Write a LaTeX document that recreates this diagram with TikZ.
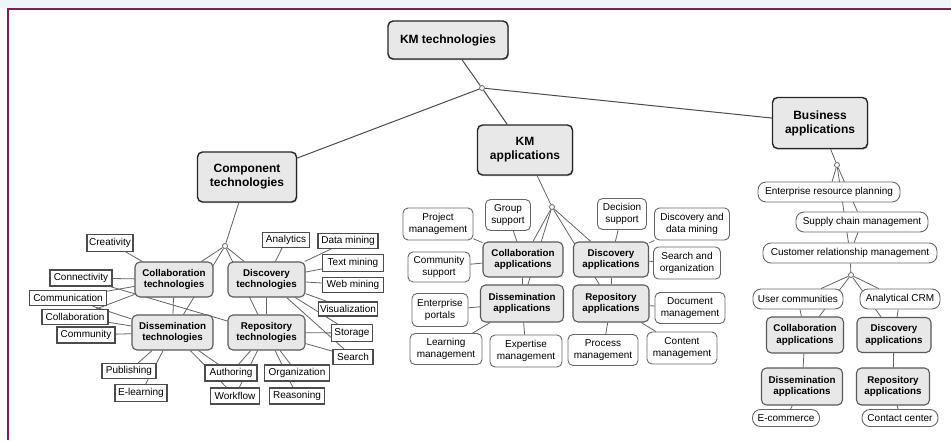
\documentclass[tikz,border=0pt]{standalone}
\usepackage{fontspec}
\setmainfont{Liberation Sans}
\usetikzlibrary{shadows}
\definecolor{boxgray}{RGB}{232,232,232}
\definecolor{framecol}{RGB}{130,30,85}
\definecolor{topband}{RGB}{236,246,249}
\definecolor{linecol}{RGB}{100,100,100}
\pgfdeclarelayer{bg}
\pgfsetlayers{bg,main}
\tikzset{
  sz/.style 2 args={minimum width=#1pt,minimum height=#2pt},
  topbox/.style={draw=black!85, line width=1.4pt, fill=boxgray, rounded corners=5pt, align=center,
    font=\fontsize{12}{14}\selectfont\bfseries, inner sep=1pt,
    drop shadow={shadow xshift=0.8pt, shadow yshift=-1.2pt, fill=black!55}},
  midbox/.style={draw=black!65, line width=1.1pt, fill=boxgray, rounded corners=5pt, align=center,
    font=\fontsize{9.8}{11.8}\selectfont\bfseries, inner sep=0.5pt},
  sqleaf/.style={draw=black!70, line width=1.1pt, fill=white, inner sep=1pt,
    font=\fontsize{10}{11.5}\selectfont},
  rleaf/.style={draw=black!60, line width=0.9pt, fill=white, rounded corners=5pt, align=center,
    inner sep=1pt, font=\fontsize{10}{12}\selectfont},
  pill/.style={rleaf, rounded corners=8pt},
  jn/.style={circle, draw=black!60, fill=white, line width=0.8pt, inner sep=0pt, minimum size=5pt},
  conn/.style={draw=linecol, line width=0.8pt},
  mainconn/.style={draw=black!70, line width=1pt},
}
\begin{document}
\begin{tikzpicture}[x=1pt,y=-1pt]
\useasboundingbox (0,0) rectangle (951,440);
% ---------- top level ----------
\node[topbox, sz={120}{38}] (kmt) at (448,40) {KM technologies};
\node[jn] (c1) at (482,88) {};
\node[topbox, sz={99}{50}] (compt) at (247,177) {Component\\technologies};
\node[topbox, sz={95}{50}] (kmapp) at (525,150) {KM\\applications};
\node[topbox, sz={95}{51}] (busapp) at (820,123) {Business\\applications};
% ---------- component technologies ----------
\node[jn] (c2) at (225,246) {};
\node[midbox, sz={78}{35}] (collabt) at (174,279.5) {Collaboration\\technologies};
\node[midbox, sz={77}{35}] (disct) at (266.5,279.5) {Discovery\\technologies};
\node[midbox, sz={81}{35}] (disst) at (172.5,332.5) {Dissemination\\technologies};
\node[midbox, sz={77}{35}] (repot) at (266.5,332.5) {Repository\\technologies};
\node[sqleaf, sz={46}{17}] (creat) at (110,243) {Creativity};
\node[sqleaf, sz={62}{16}] (connect) at (81,278) {Connectivity};
\node[sqleaf, sz={77}{15}] (commun) at (68,298) {Communication};
\node[sqleaf, sz={66}{15}] (collab) at (75,317) {Collaboration};
\node[sqleaf, sz={58}{16}] (commty) at (86,335) {Community};
\node[sqleaf, sz={54}{15}] (publ) at (129,371) {Publishing};
\node[sqleaf, sz={52}{17}] (elearn) at (141,393) {E-learning};
\node[sqleaf, sz={52}{16}] (author) at (231,373) {Authoring};
\node[sqleaf, sz={49}{16}] (workfl) at (235,396) {Workflow};
\node[sqleaf, sz={65}{16}] (organ) at (297,373) {Organization};
\node[sqleaf, sz={55}{16}] (reason) at (297,396) {Reasoning};
\node[sqleaf, sz={47}{15}] (analyt) at (286,240) {Analytics};
\node[sqleaf, sz={60}{15}] (datam) at (348,241) {Data mining};
\node[sqleaf, sz={61}{17}] (textm) at (353,263) {Text mining};
\node[sqleaf, sz={61}{15}] (webm) at (353,285) {Web mining};
\node[sqleaf, sz={59}{14}] (visual) at (348,309) {Visualization};
\node[sqleaf, sz={41}{17}] (storage) at (352,333) {Storage};
\node[sqleaf, sz={40}{15}] (search) at (353,357) {Search};
% ---------- KM applications ----------
\node[jn] (c5) at (552,207) {};
\node[midbox, sz={80}{35}] (collaba) at (523,259.5) {Collaboration\\applications};
\node[midbox, sz={75}{35}] (disca) at (611,259.5) {Discovery\\applications};
\node[midbox, sz={83}{37}] (dissa) at (522,303.5) {Dissemination\\applications};
\node[midbox, sz={76}{37}] (repoa) at (611,303.5) {Repository\\applications};
\node[rleaf, sz={70}{32}] (projm) at (438,224) {Project\\management};
\node[rleaf, sz={45}{31}] (groups) at (508,215) {Group\\support};
\node[rleaf, sz={62}{30}] (comms) at (439,267) {Community\\support};
\node[rleaf, sz={56}{33}] (entp) at (440,310) {Enterprise\\portals};
\node[rleaf, sz={72}{31}] (learnm) at (446,349) {Learning\\management};
\node[rleaf, sz={72}{32}] (expm) at (526,351) {Expertise\\management};
\node[rleaf, sz={49}{31}] (decs) at (622,214) {Decision\\support};
\node[rleaf, sz={75}{32}] (discdm) at (692,224) {Discovery and\\data mining};
\node[rleaf, sz={67}{32}] (searcho) at (687,263) {Search and\\organization};
\node[rleaf, sz={70}{31}] (docm) at (690,308) {Document\\management};
\node[rleaf, sz={70}{31}] (procm) at (603,350) {Process\\management};
\node[rleaf, sz={70}{32}] (contm) at (682,348) {Content\\management};
% ---------- Business applications ----------
\node[jn] (c3) at (837,165) {};
\node[pill, sz={142}{20}] (erp) at (829,192) {Enterprise resource planning};
\node[pill, sz={132}{20}] (scm) at (862,222) {Supply chain management};
\node[pill, sz={174}{20}] (crm) at (850,253) {Customer relationship management};
\node[jn] (c4) at (851,275) {};
\node[pill, sz={90}{20}] (userc) at (798,299) {User communities};
\node[pill, sz={80}{20}] (ancrm) at (900,299) {Analytical CRM};
\node[midbox, sz={77}{36}] (collabr) at (805,335) {Collaboration\\applications};
\node[midbox, sz={74}{35}] (discr) at (894,335) {Discovery\\applications};
\node[midbox, sz={81}{37}] (dissr) at (802,386.5) {Dissemination\\applications};
\node[midbox, sz={73}{37}] (repor) at (893,386.5) {Repository\\applications};
\node[pill, sz={67}{17}] (ecom) at (786,418) {E-commerce};
\node[pill, sz={76}{17}] (contc) at (900,418) {Contact center};
% ---------- background: frame and connectors ----------
\begin{pgfonlayer}{bg}
  \fill[white] (0,0) rectangle (951,440);
  \fill[topband] (0,0) rectangle (951,8);
  \draw[framecol, line width=1.8pt] (8,440) -- (8,9) -- (951,9);
  % top level
  \draw[mainconn] (kmt) -- (c1);
  \draw[mainconn] (c1) -- (compt);
  \draw[mainconn] (c1) -- (kmapp);
  \draw[mainconn] (c1) -- (busapp);
  % component technologies
  \draw[conn] (compt) -- (c2);
  \foreach \t in {collabt,disct,disst,repot} \draw[conn] (c2) -- (\t);
  \foreach \t in {creat,connect,commun,collab} \draw[conn] (\t) -- (collabt);
  \foreach \t in {commun,collab,commty,publ,elearn,author,workfl} \draw[conn] (\t) -- (disst);
  \draw[conn] (connect) -- (repot);
  \draw[conn] (collabt) -- (disst);
  \foreach \t in {author,workfl,organ,reason,storage,search} \draw[conn] (\t) -- (repot);
  \foreach \t in {analyt,datam,textm,webm,visual,storage,search} \draw[conn] (\t) -- (disct);
  \draw[conn] (disct) -- (repot);
  % KM applications
  \draw[conn] (kmapp) -- (c5);
  \foreach \t in {collaba,disca,dissa,repoa} \draw[conn] (c5) -- (\t);
  \foreach \t in {projm,groups,comms} \draw[conn] (\t) -- (collaba);
  \foreach \t in {entp,learnm,expm} \draw[conn] (\t) -- (dissa);
  \foreach \t in {decs,discdm,searcho} \draw[conn] (\t) -- (disca);
  \foreach \t in {docm,procm,contm} \draw[conn] (\t) -- (repoa);
  \draw[conn] (collaba) -- (dissa);
  \draw[conn] (disca) -- (repoa);
  % Business applications
  \draw[conn] (busapp) -- (c3);
  \foreach \t in {erp,scm,crm} \draw[conn] (c3) -- (\t);
  \draw[conn] (scm) -- (crm);
  \draw[conn] (crm) -- (c4);
  \foreach \t in {userc,ancrm,collabr,discr} \draw[conn] (c4) -- (\t);
  \draw[conn] (userc) -- (collabr);
  \draw[conn] (ancrm) -- (discr);
  \draw[conn] (collabr) -- (dissr);
  \draw[conn] (discr) -- (repor);
  \draw[conn] (dissr) -- (ecom);
  \draw[conn] (repor) -- (contc);
\end{pgfonlayer}
\end{tikzpicture}
\end{document}
